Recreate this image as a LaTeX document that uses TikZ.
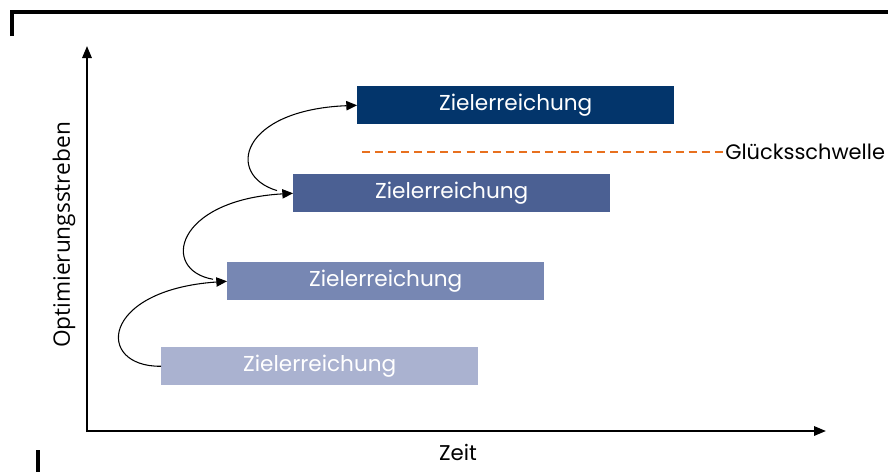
\documentclass[tikz,border=0pt]{standalone}
\usepackage{fontspec}
\setmainfont{Poppins}
\newfontfamily\labfont{Open Sans}
\usetikzlibrary{arrows.meta}
\definecolor{cA}{HTML}{AAB2D0}
\definecolor{cB}{HTML}{7787B3}
\definecolor{cC}{HTML}{4B6093}
\definecolor{cD}{HTML}{03356B}
\definecolor{orng}{HTML}{E8701E}
\tikzset{
  goalbox/.style={fill=#1, draw=none, minimum width=317*0.75pt, minimum height=38*0.75pt, inner sep=0pt, text=white, font=\fontsize{16.2}{18}\selectfont},
  axis/.style={line width=1.6pt, -{Triangle[length=9pt,width=7pt]}},
  curv/.style={line width=0.8pt, -{Triangle[length=8pt,width=7pt]}},
  frame/.style={line width=3pt},
}
\begin{document}
\begin{tikzpicture}[x=0.75pt,y=-0.75pt]
\useasboundingbox (0,0) rectangle (888,472);
% frame marks
\draw[frame] (11.5,36) -- (11.5,11.5) -- (888,11.5);
\draw[frame] (38,450) -- (38,472);
% axes
\coordinate (o) at (87,431);
\coordinate (ytip) at (87,46);
\coordinate (xtip) at (826,431);
\draw[axis] (87,432) -- (ytip);
\draw[axis] (86,431) -- (xtip);
\node[font=\labfont\fontsize{17}{19}\selectfont, rotate=90] (ylab) at (64,235) {Optimierungsstreben};
\node[font=\fontsize{16}{18}\selectfont] (xlab) at (458,452) {Zeit};
% boxes
\node[goalbox=cA, anchor=north west] (b1) at (161,347) {Zielerreichung};
\node[goalbox=cB, anchor=north west] (b2) at (227,262) {Zielerreichung};
\node[goalbox=cC, anchor=north west] (b3) at (293,174) {Zielerreichung};
\node[goalbox=cD, anchor=north west] (b4) at (357,86) {Zielerreichung};
% threshold
\coordinate (d0) at (362,152);
\node[anchor=west, inner sep=0pt, font=\fontsize{15.7}{18}\selectfont] (glk) at (725,152) {Glücksschwelle};
\draw[orng, line width=1.5pt, dash pattern=on 6pt off 3.8pt] (d0) -- (glk.west);
% curves
\draw[curv] (b1.west) .. controls (95,367) and (100,290) .. (b2.west);
\draw[curv] ([yshift=1.5pt]b2.west) ++(-14,0) .. controls (160,270) and (175,200) .. ([xshift=0pt]b3.west);
\draw[curv] ([yshift=2pt]b3.west) ++(-16,0) .. controls (225,175) and (240,110) .. (b4.west);
\end{tikzpicture}
\end{document}
